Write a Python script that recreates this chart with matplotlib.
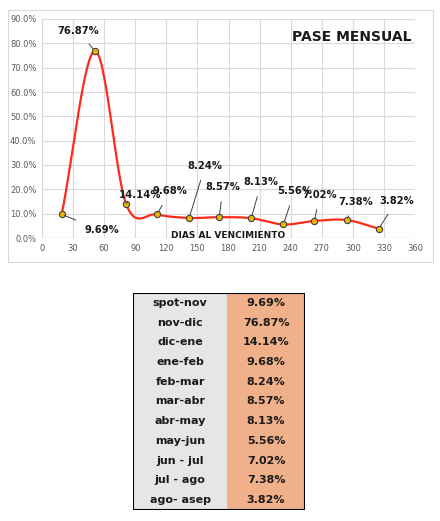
import matplotlib.pyplot as plt
import numpy as np
from matplotlib import ticker
from matplotlib.patches import Rectangle

days = [19, 51, 81, 111, 142, 171, 202, 233, 263, 294, 325]
pase = [9.69, 76.87, 14.14, 9.68, 8.24, 8.57, 8.13, 5.56, 7.02, 7.38, 3.82]
periods = ['spot-nov', 'nov-dic', 'dic-ene', 'ene-feb', 'feb-mar', 'mar-abr',
           'abr-may', 'may-jun', 'jun - jul', 'jul - ago', 'ago- asep']
# label offsets in pixels (dx, dy) relative to each point
offsets = [(40, -16), (-17, 20), (14, 9), (13, 23), (16, 52), (4, 30),
           (10, 36), (11, 33), (5, 26), (9, 18), (18, 28)]


def catmull_rom(x, y, n=30):
    x = np.asarray(x, float)
    y = np.asarray(y, float)
    px = np.concatenate([[2 * x[0] - x[1]], x, [2 * x[-1] - x[-2]]])
    py = np.concatenate([[2 * y[0] - y[1]], y, [2 * y[-1] - y[-2]]])
    xs, ys = [], []
    t = np.linspace(0, 1, n)
    for i in range(1, len(px) - 2):
        for p, out in ((px, xs), (py, ys)):
            p0, p1, p2, p3 = p[i - 1:i + 3]
            out.extend(0.5 * (2 * p1 + (-p0 + p2) * t + (2 * p0 - 5 * p1 + 4 * p2 - p3) * t ** 2
                              + (-p0 + 3 * p1 - 3 * p2 + p3) * t ** 3))
    return xs, ys


fig = plt.figure(figsize=(4.4, 5.21), dpi=100)
fig.patches.append(Rectangle((8 / 440, 1 - 262 / 521), 425 / 440, 252 / 521, transform=fig.transFigure,
                             fill=False, edgecolor='#d9d9d9', lw=0.8))
ax = fig.add_axes([42 / 440, 1 - 238 / 521, 373 / 440, 219 / 521])
sx, sy = catmull_rom(days, pase)
ax.plot(sx, sy, color='#ff2a1a', lw=1.6, zorder=3)
ax.plot(days, pase, 'o', ms=4.5, mfc='#f0b400', mec='#404040', mew=0.8, zorder=4)
for d, v, (dx, dy) in zip(days, pase, offsets):
    ax.annotate(f'{v:.2f}%', xy=(d, v), xytext=(dx, dy), textcoords='offset pixels',
                ha='center', va='center', fontsize=7.2, fontweight='bold', color='#1a1a1a',
                arrowprops=dict(arrowstyle='-', color='#404040', lw=0.7, shrinkA=5, shrinkB=2), zorder=5)
ax.set_xlim(0, 360)
ax.set_ylim(0, 90)
ax.set_xticks(np.arange(0, 361, 30))
ax.set_yticks(np.arange(0, 91, 10))
ax.yaxis.set_major_formatter(ticker.FuncFormatter(lambda v, _: f'{v:.1f}%'))
ax.grid(True, color='#d9d9d9', lw=0.8)
ax.tick_params(length=0, labelsize=6, colors='#595959', pad=4)
for s in ax.spines.values():
    s.set_visible(False)
ax.axhline(0, color='#bfbfbf', lw=0.8)
ax.text(0.5, -0.01, 'DIAS AL VENCIMIENTO', transform=ax.transAxes, ha='center', va='bottom',
        fontsize=6.5, fontweight='bold', color='#1a1a1a')
ax.text(0.99, 0.92, 'PASE MENSUAL', transform=ax.transAxes, ha='right', va='center',
        fontsize=10, fontweight='bold', color='#1a1a1a')

# table
tab = fig.add_axes([133 / 440, 1 - 510 / 521, 172 / 440, 217 / 521])
tab.set_xlim(0, 172)
tab.set_ylim(len(periods), 0)
tab.axis('off')
tab.add_patch(Rectangle((0, 0), 94, len(periods), facecolor='#e7e6e6', edgecolor='none'))
tab.add_patch(Rectangle((94, 0), 78, len(periods), facecolor='#f0b08a', edgecolor='none'))
tab.add_patch(Rectangle((0, 0), 172, len(periods), fill=False, edgecolor='black', lw=1.5))
for i, (p, v) in enumerate(zip(periods, pase)):
    tab.text(47, i + 0.5, p, ha='center', va='center', fontsize=8, fontweight='bold', color='#1a1a1a')
    tab.text(133, i + 0.5, f'{v:.2f}%', ha='center', va='center', fontsize=8, fontweight='bold', color='#1a1a1a')

plt.savefig('out.png', dpi=100)
